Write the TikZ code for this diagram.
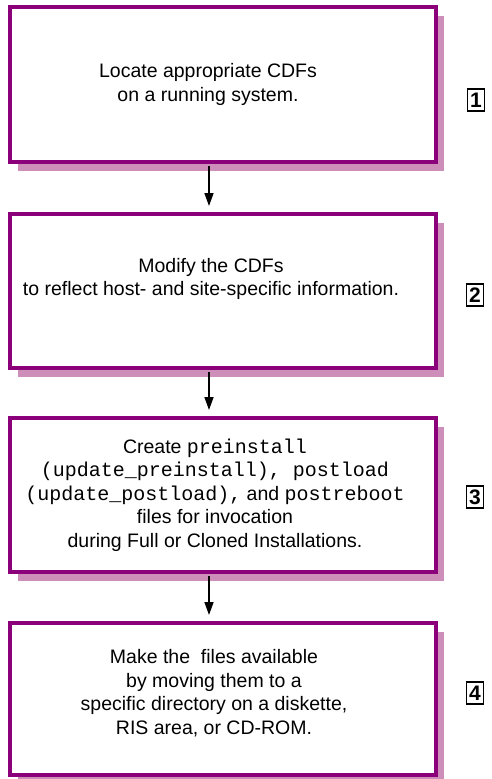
\documentclass[tikz,border=0pt]{standalone}
\usepackage{fontspec}
\setmainfont{Liberation Sans}
\setmonofont{Liberation Mono}
\usetikzlibrary{arrows.meta,shadows,positioning}

\definecolor{c_box}{RGB}{139,0,122}
\definecolor{c_shadow}{RGB}{205,142,186}

\newcommand\cmdname[1]{{\fontsize{20}{23.5}\selectfont\ttfamily #1}}

\begin{document}
\begin{tikzpicture}[x=1pt, y=-1pt,
  stepbox/.style={rectangle, draw=c_box, line width=4pt, fill=white,
    minimum width=426pt,
    general shadow={fill=c_shadow, shadow xshift=8pt, shadow yshift=-9pt}},
  steptext/.style={align=center, font=\fontsize{19.5}{23.5}\selectfont},
  stepnum/.style={draw, line width=1.3pt, inner sep=0pt, minimum width=17pt,
    minimum height=22pt, font=\fontsize{21}{22}\selectfont\bfseries},
  flow/.style={-{Triangle[length=13pt,width=9pt]}, line width=1.6pt,
    shorten >=6pt, shorten <=2pt}]

\useasboundingbox (0,0) rectangle (491,779);

% Step boxes
\node (b1) at (223,84.5) [stepbox, minimum height=155pt] {};
\node (b2) at (223,291) [stepbox, minimum height=154pt] {};
\node (b3) at (223,495) [stepbox, minimum height=154pt] {};
\node (b4) at (223,699) [stepbox, minimum height=152pt] {};

% Step texts
\node (t1) at ([xshift=-15pt]b1.center) [steptext]
  {Locate appropriate CDFs\\on a running system.};
\node (t2) at ([xshift=-12pt, yshift=12pt]b2.center) [steptext]
  {Modify the CDFs\\to reflect host- and site-specific information.};
\node (t3) at ([xshift=-8pt]b3.center) [steptext]
  {Create \cmdname{preinstall}\\
   \cmdname{(update\_preinstall), postload}\\
   \cmdname{(update\_postload),} and \cmdname{postreboot}\\
   files for invocation\\
   during Full or Cloned Installations.};
\node (t4) at ([xshift=-9pt, yshift=6pt]b4.center) [steptext]
  {Make the~ files available\\by moving them to a\\specific directory on a diskette,\\RIS area, or CD-ROM.};

% Flow between steps
\draw[flow] ([xshift=-14pt]b1.south) -- ([xshift=-14pt]b2.north);
\draw[flow] ([xshift=-14pt]b2.south) -- ([xshift=-14pt]b3.north);
\draw[flow] ([xshift=-14pt]b3.south) -- ([xshift=-14pt]b4.north);

% Step numbers
\node (n1) at (476,100) [stepnum] {1};
\node (n2) at (475,295) [stepnum] {2};
\node (n3) at (475,497) [stepnum] {3};
\node (n4) at (475,693) [stepnum] {4};

\end{tikzpicture}
\end{document}
